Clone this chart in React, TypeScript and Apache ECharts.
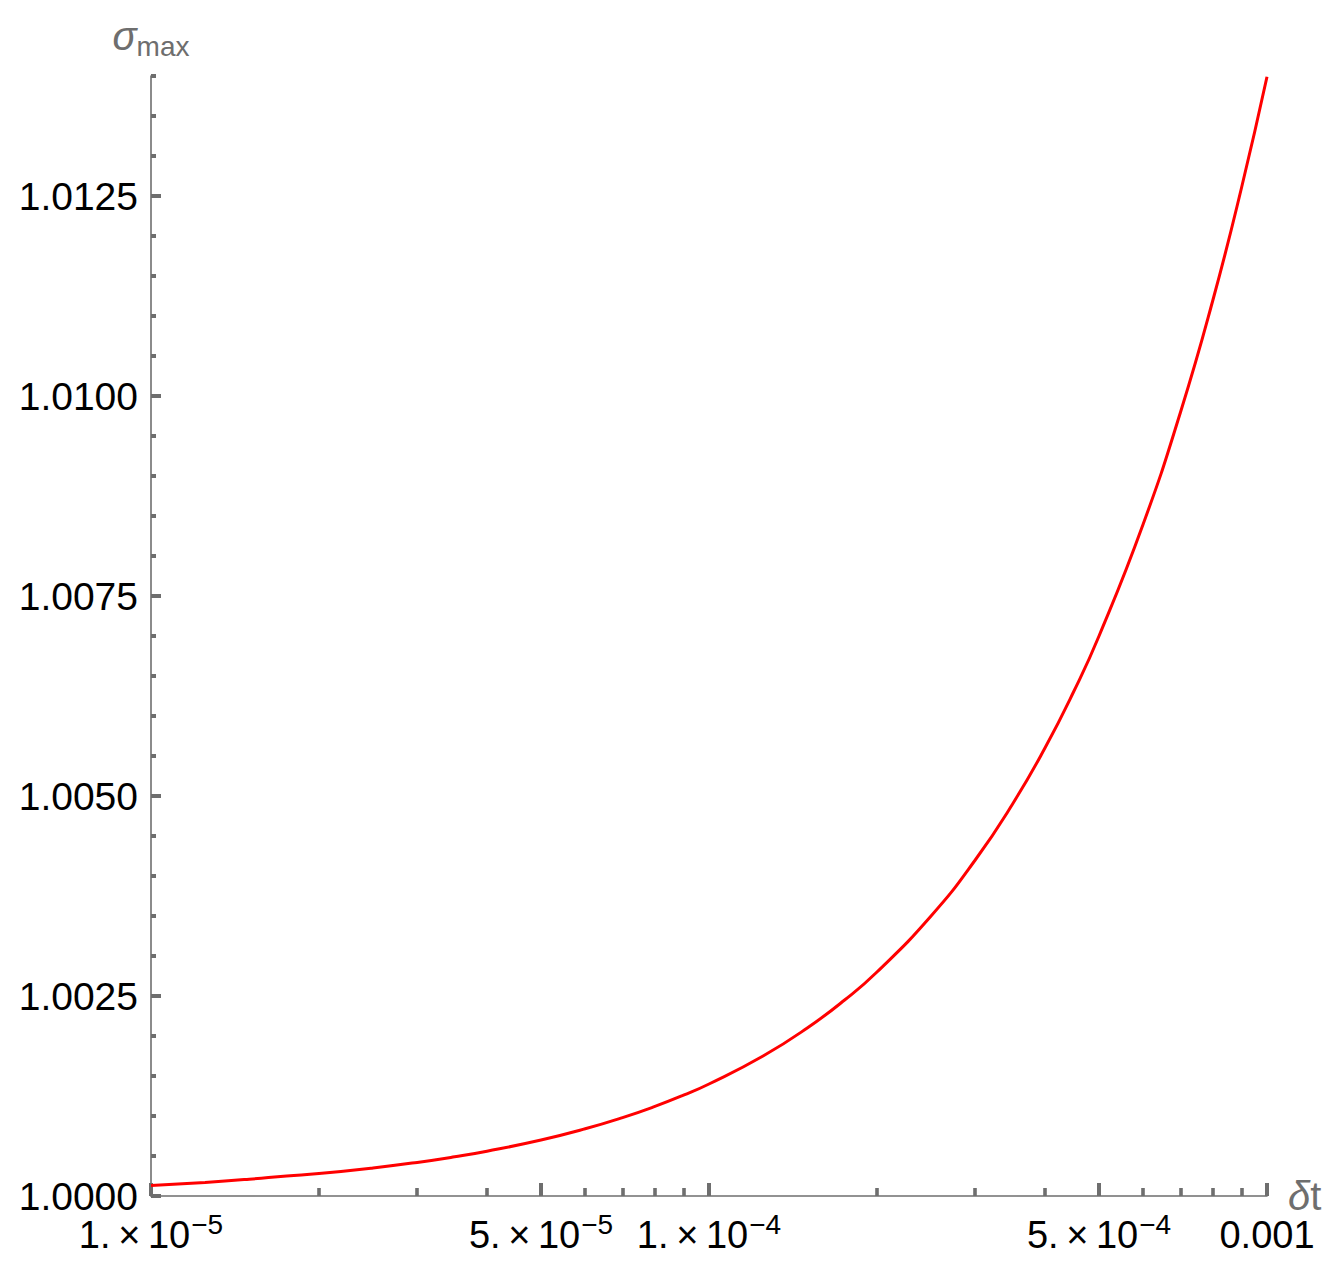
import React, { useEffect, useRef } from "react";
import * as echarts from "echarts";

// Data
const dtValues = [
  1e-5, 1.25e-5, 1.5e-5, 1.75e-5, 2e-5, 2.5e-5, 3e-5, 3.5e-5, 4e-5, 5e-5, 6e-5, 7e-5, 8e-5, 9e-5,
  1e-4, 1.25e-4, 1.5e-4, 1.75e-4, 2e-4, 2.5e-4, 3e-4, 3.5e-4, 4e-4, 4.5e-4, 5e-4, 6e-4, 7e-4,
  8e-4, 9e-4, 1e-3,
];
const sigmaValues = [
  1.00013, 1.00017, 1.00021, 1.00025, 1.00028, 1.00035, 1.00042, 1.00049, 1.00056, 1.0007,
  1.00084, 1.00098, 1.00112, 1.00126, 1.0014, 1.00175, 1.0021, 1.00245, 1.0028, 1.0035, 1.0042,
  1.0049, 1.0056, 1.0063, 1.007, 1.0084, 1.0098, 1.0112, 1.0126, 1.01399,
];

const xMajorTicks = [1e-5, 5e-5, 1e-4, 5e-4, 1e-3];
const xMajorLabels = [
  ["1.\u2009×\u200910", "−5"],
  ["5.\u2009×\u200910", "−5"],
  ["1.\u2009×\u200910", "−4"],
  ["5.\u2009×\u200910", "−4"],
  ["0.001", ""],
];
const xMinorTicks = [
  2e-5, 3e-5, 4e-5, 6e-5, 7e-5, 8e-5, 9e-5, 2e-4, 3e-4, 4e-4, 6e-4, 7e-4, 8e-4, 9e-4,
];
const yMajorTicks = [1.0, 1.0025, 1.005, 1.0075, 1.01, 1.0125];
const yMinorTicks = [
  1.0005, 1.001, 1.0015, 1.002, 1.003, 1.0035, 1.004, 1.0045, 1.0055, 1.006, 1.0065, 1.007,
  1.008, 1.0085, 1.009, 1.0095, 1.0105, 1.011, 1.0115, 1.012, 1.013, 1.0135, 1.014,
];

const AXIS_GREY = "#6e6e6e";
const FONT = "'Liberation Sans', Arial, sans-serif";

export default function App() {
  const ref = useRef<HTMLDivElement>(null);

  useEffect(() => {
    if (!ref.current) return;
    const chart = echarts.init(ref.current, null, { renderer: "svg" });
    const data = dtValues.map((d, i) => [d, sigmaValues[i]]);

    const xFormatter = (v: number) => {
      let best = 0;
      let bd = Infinity;
      xMajorTicks.forEach((t, i) => {
        const d = Math.abs(Math.log10(t) - Math.log10(v));
        if (d < bd) {
          bd = d;
          best = i;
        }
      });
      const [m, s] = xMajorLabels[best];
      return s ? `{m|${m}}{s|${s}}` : `{m|${m}}`;
    };

    chart.setOption({
      animation: false,
      backgroundColor: "#ffffff",
      grid: { left: 151, top: 76, right: 72, bottom: 81, containLabel: false },
      xAxis: [
        {
          type: "log",
          logBase: 10,
          min: 1e-5,
          max: 1e-3,
          position: "bottom",
          name: "{d|δ}{t|t}",
          nameLocation: "end",
          nameGap: 21,
          nameTextStyle: {
            rich: {
              d: { fontFamily: FONT, fontSize: 40, fontStyle: "italic", color: AXIS_GREY },
              t: { fontFamily: FONT, fontSize: 40, color: AXIS_GREY },
            },
          },
          axisLine: { show: true, lineStyle: { color: AXIS_GREY, width: 1.6 } },
          axisTick: {
            show: true,
            inside: true,
            length: 13,
            customValues: xMajorTicks,
            lineStyle: { color: AXIS_GREY, width: 4 },
          },
          axisLabel: {
            show: true,
            customValues: xMajorTicks,
            margin: 14,
            formatter: xFormatter,
            rich: {
              m: { fontFamily: FONT, fontSize: 38, color: "#000", lineHeight: 44, verticalAlign: "bottom" },
              s: { fontFamily: FONT, fontSize: 28, color: "#000", lineHeight: 44, verticalAlign: "top", padding: [0, 0, 0, 1] },
            },
          },
          splitLine: { show: false },
          minorTick: { show: false },
          minorSplitLine: { show: false },
        },
        {
          type: "log",
          logBase: 10,
          min: 1e-5,
          max: 1e-3,
          position: "bottom",
          axisLine: { show: false },
          axisTick: {
            show: true,
            inside: true,
            length: 8,
            customValues: xMinorTicks,
            lineStyle: { color: AXIS_GREY, width: 3.6 },
          },
          axisLabel: { show: false },
          splitLine: { show: false },
        },
      ],
      yAxis: [
        {
          type: "value",
          min: 1.0,
          max: 1.014,
          position: "left",
          name: "{s|σ}{m|max}",
          nameLocation: "end",
          nameGap: 20,
          nameTextStyle: {
            align: "center",
            rich: {
              s: { fontFamily: FONT, fontSize: 40, fontStyle: "italic", color: AXIS_GREY, lineHeight: 42, verticalAlign: "bottom" },
              m: { fontFamily: FONT, fontSize: 28, color: AXIS_GREY, lineHeight: 42, verticalAlign: "bottom", padding: [0, 0, -4, 0] },
            },
          },
          axisLine: { show: true, lineStyle: { color: AXIS_GREY, width: 1.6 } },
          axisTick: {
            show: true,
            inside: true,
            length: 10,
            customValues: yMajorTicks,
            lineStyle: { color: AXIS_GREY, width: 4 },
          },
          axisLabel: {
            show: true,
            customValues: yMajorTicks,
            margin: 13,
            fontFamily: FONT,
            fontSize: 39,
            color: "#000",
            formatter: (v: number) => v.toFixed(4),
          },
          splitLine: { show: false },
        },
        {
          type: "value",
          min: 1.0,
          max: 1.014,
          position: "left",
          axisLine: { show: false },
          axisTick: {
            show: true,
            inside: true,
            length: 5,
            customValues: yMinorTicks,
            lineStyle: { color: AXIS_GREY, width: 4 },
          },
          axisLabel: { show: false },
          splitLine: { show: false },
        },
      ],
      series: [
        {
          type: "line",
          xAxisIndex: 0,
          yAxisIndex: 0,
          data,
          smooth: true,
          showSymbol: false,
          symbol: "none",
          lineStyle: { color: "#ff0000", width: 3 },
          clip: false,
        },
      ],
    });

    return () => chart.dispose();
  }, []);

  return (
    <div
      ref={ref}
      style={{ position: "fixed", left: 0, top: 0, width: 1339, height: 1277, background: "#fff" }}
    />
  );
}
